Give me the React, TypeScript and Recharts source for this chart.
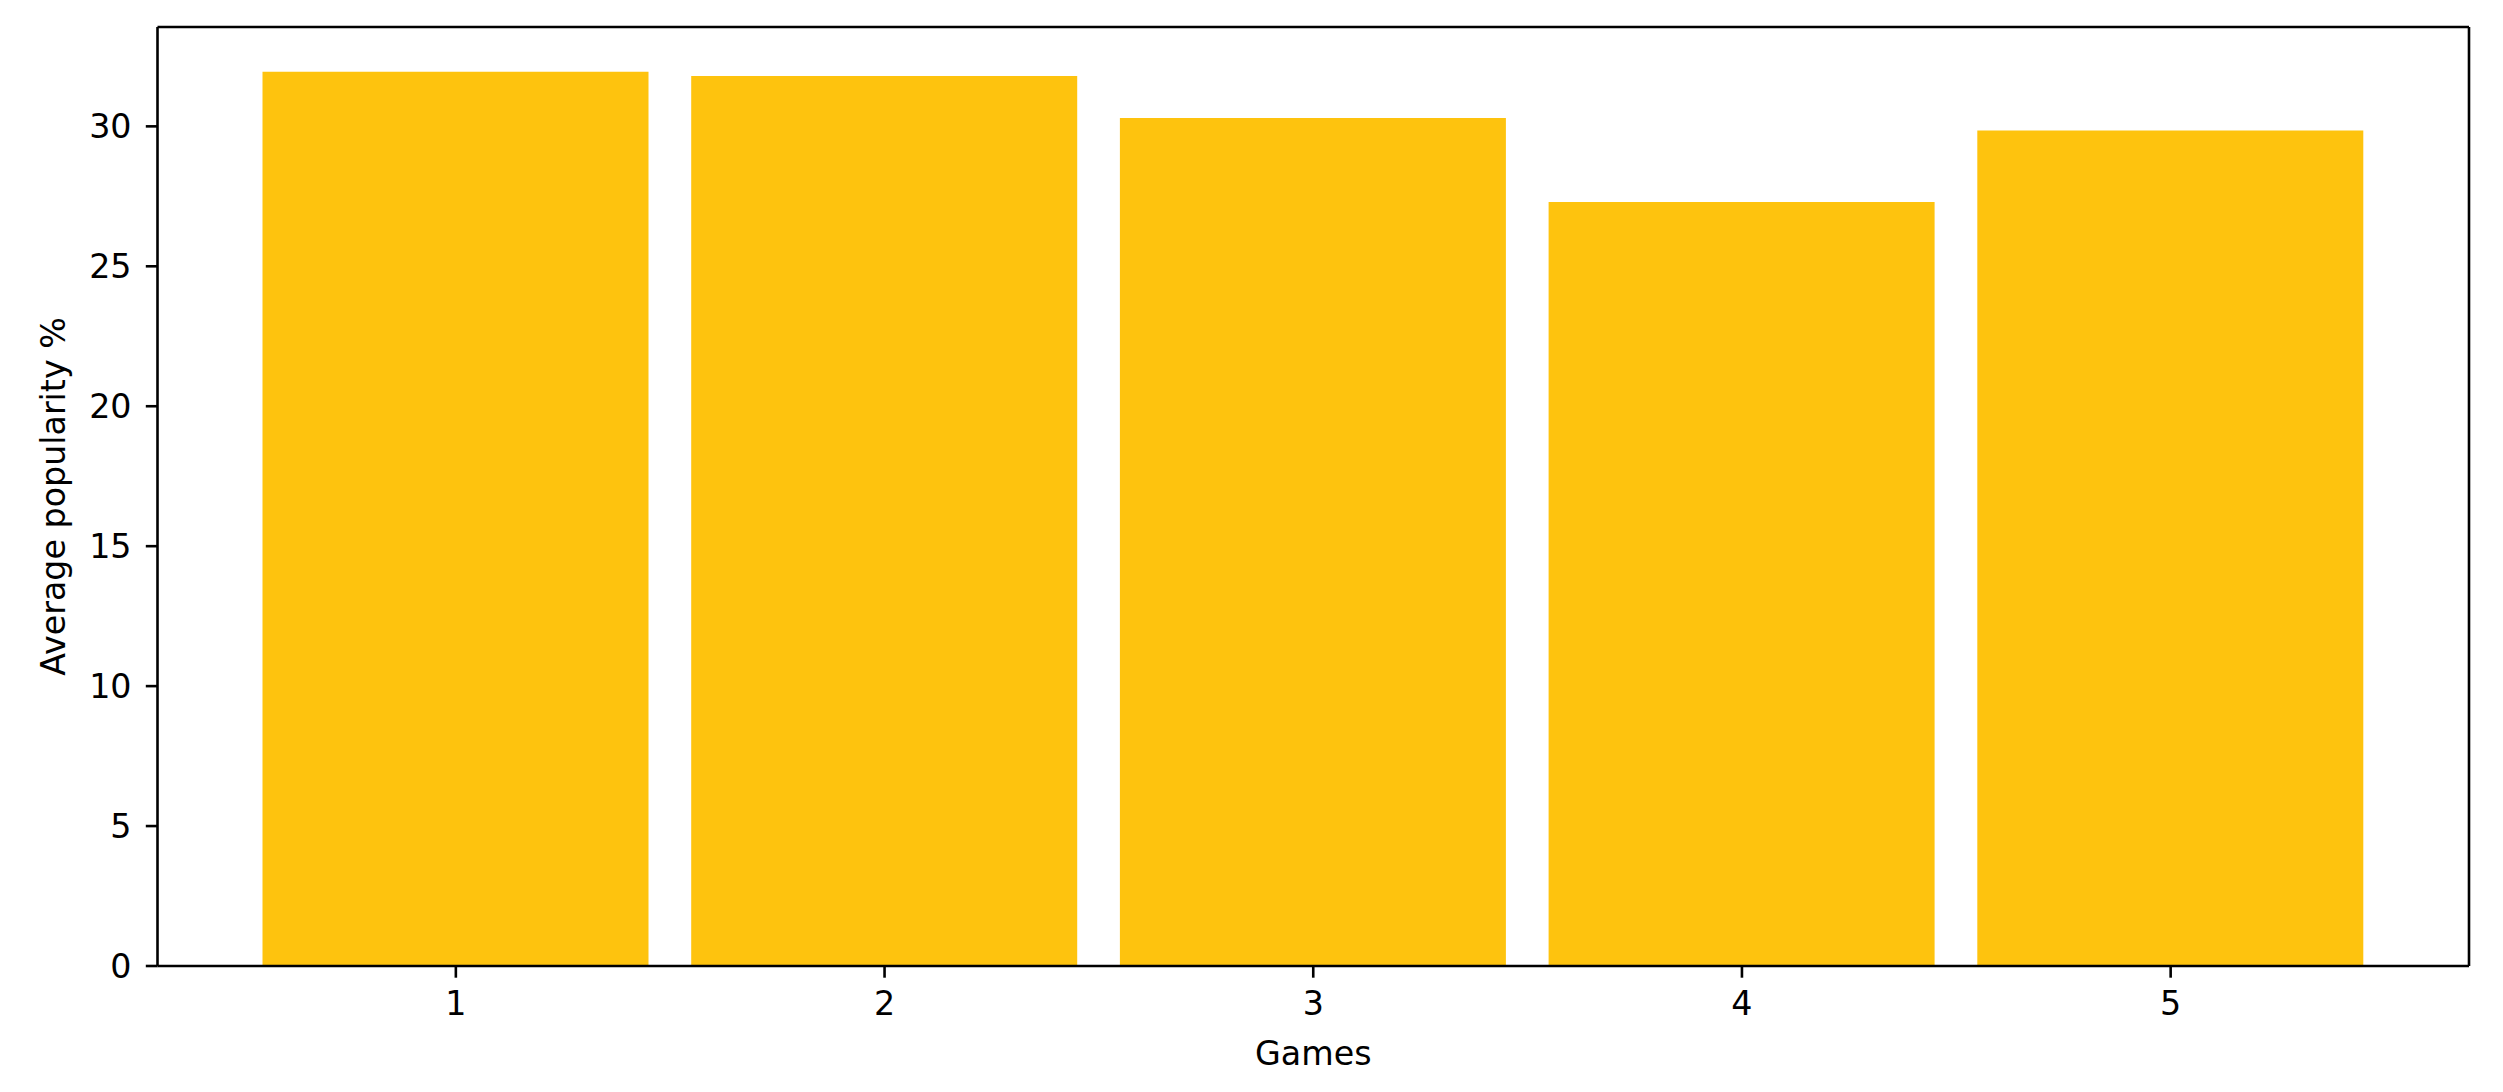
import { Bar, BarChart, XAxis, YAxis, Label } from "recharts";

const games = ["1", "2", "3", "4", "5"];
const popularity = [31.95, 31.8, 30.3, 27.3, 29.85];
const yTicks = [0, 5, 10, 15, 20, 25, 30];

const data = games.map((g, i) => ({ game: g, value: popularity[i] }));

const FONT = "'DejaVu Sans', sans-serif";
const FS = 33.3;
const tickStyle = { fill: "#000", fontSize: FS, fontFamily: FONT };
const axisStroke = { stroke: "#000", strokeWidth: 2.6 };

export default function App() {
  return (
    <div style={{ position: "absolute", left: 0, top: 0, width: 2503, height: 1092, background: "#fff" }}>
      <BarChart width={2503} height={1092} data={data} margin={{ top: 26, right: 33, bottom: 0, left: 0 }}>
        <Bar dataKey="value" fill="#FEC30E" barSize={386} isAnimationActive={false} />
        <XAxis
          dataKey="game"
          height={126}
          padding={{ left: 84, right: 84 }}
          tick={tickStyle}
          tickSize={11.7}
          tickMargin={14}
          axisLine={axisStroke}
          tickLine={axisStroke}
        >
          <Label value="Games" position="insideBottom" offset={27} style={{ fill: "#000", fontSize: FS, fontFamily: FONT }} />
        </XAxis>
        <XAxis xAxisId="top" dataKey="game" orientation="top" height={1} tick={false} tickLine={false} axisLine={axisStroke} />
        <YAxis
          width={157.5}
          domain={[0, 33.55]}
          ticks={yTicks}
          allowDataOverflow
          tick={tickStyle}
          tickSize={11.7}
          tickMargin={14.3}
          axisLine={axisStroke}
          tickLine={axisStroke}
        >
          <Label value="Average popularity %" angle={-90} position="center" dx={-26} style={{ fill: "#000", fontSize: FS, fontFamily: FONT, textAnchor: "middle" }} />
        </YAxis>
        <YAxis yAxisId="right" orientation="right" width={1} domain={[0, 33.55]} tick={false} tickLine={false} axisLine={axisStroke} />
      </BarChart>
    </div>
  );
}
